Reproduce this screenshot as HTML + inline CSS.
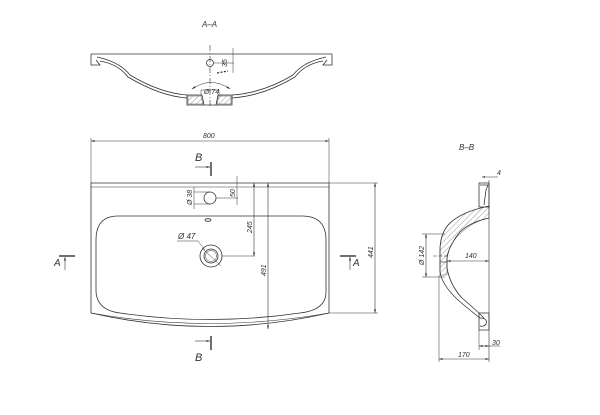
<!DOCTYPE html>
<html><head><meta charset="utf-8"><style>
html,body{margin:0;padding:0;background:#fff;}
svg{display:block;}
text{font-family:"Liberation Sans",sans-serif;font-style:italic;fill:#333;}
</style></head><body>
<svg width="600" height="415" viewBox="0 0 600 415" xmlns="http://www.w3.org/2000/svg">
<defs>
<marker id="ar" viewBox="0 0 10 10" refX="10" refY="5" markerWidth="6" markerHeight="6" orient="auto-start-reverse"><path d="M0,2 L10,5 L0,8 z" fill="#333"/></marker>
<pattern id="h" width="4" height="4" patternUnits="userSpaceOnUse" patternTransform="rotate(45)"><line x1="0" y1="0" x2="0" y2="4" stroke="#555" stroke-width="0.6"/></pattern>
</defs>
<g fill="none" stroke="#333" stroke-width="0.8">
<!-- A-A section -->
<line x1="91" y1="54" x2="332" y2="54"/>
<path d="M91,54 L91,65 L100,65 L96,60"/>
<path d="M332,54 L332,65 L323,65 L327,60"/>
<path d="M97,57 Q120,62 130,75 Q160,93 187,95"/>
<path d="M100,61 Q118,64 128,77 Q160,96 187,98"/>
<path d="M326,57 Q303,62 293,75 Q263,93 232,95"/>
<path d="M323,61 Q305,64 295,77 Q263,96 232,98"/>
<path d="M187,95 L187,105 L232,105 L232,95"/>
<path d="M187,95 L202,95 L204,105 M232,95 L218,95 L216,105"/>
<path d="M188,96 L201,96 L203,104 L188,104 z" fill="url(#h)" stroke-width="0.4"/>
<path d="M231,96 L219,96 L217,104 L231,104 z" fill="url(#h)" stroke-width="0.4"/>
<line x1="210" y1="45" x2="210" y2="108" stroke-dasharray="6,2,1,2" stroke-width="0.6"/>
<circle cx="210" cy="63" r="3.5"/>
<line x1="214" y1="63" x2="234" y2="63" stroke-width="0.5"/>
<line x1="233" y1="48" x2="233" y2="73" stroke-width="0.5"/>
<path d="M192,89 Q211,76 230,89" stroke-width="0.6" marker-start="url(#ar)" marker-end="url(#ar)"/>
<line x1="201" y1="90" x2="201" y2="96" stroke-width="0.5"/>
<line x1="219" y1="90" x2="219" y2="96" stroke-width="0.5"/>
<line x1="201" y1="90" x2="219" y2="90" stroke-width="0.5"/>
<path d="M217,73 L228,71" stroke-dasharray="2,1.5" stroke-width="1.3"/>
<!-- plan view -->
<line x1="91" y1="141" x2="329" y2="141" stroke-width="0.6" marker-start="url(#ar)" marker-end="url(#ar)"/>
<line x1="91" y1="138" x2="91" y2="183" stroke-width="0.5"/>
<line x1="329" y1="138" x2="329" y2="183" stroke-width="0.5"/>
<line x1="91" y1="183" x2="329" y2="183"/>
<line x1="91" y1="187" x2="329" y2="187" stroke-width="0.6"/>
<path d="M91,183 L91,313 Q210,340 329,313 L329,183"/>
<path d="M91,313 Q210,334 329,313" stroke-width="0.6"/>
<path d="M118,216 L302,216 Q326,216 326,240 L326,292 Q326,310 300,313 Q210,326 120,313 Q96,310 96,290 L96,240 Q96,216 118,216 z"/>
<line x1="329" y1="313" x2="378" y2="313" stroke-width="0.5"/>
<line x1="329" y1="183" x2="378" y2="183" stroke-width="0.5"/>
<line x1="375" y1="183" x2="375" y2="313" stroke-width="0.6" marker-start="url(#ar)" marker-end="url(#ar)"/>
<circle cx="211" cy="256" r="11"/>
<circle cx="211" cy="256" r="7"/>
<circle cx="211" cy="256" r="5.5" stroke-width="0.5"/>
<line x1="202" y1="248" x2="221" y2="266" stroke-width="0.5"/>
<line x1="177" y1="241" x2="198" y2="241" stroke-width="0.5"/>
<line x1="198" y1="241" x2="205" y2="250" stroke-width="0.5"/>
<circle cx="210" cy="198" r="6"/>
<ellipse cx="208" cy="220" rx="3" ry="1.3"/>
<line x1="216" y1="198" x2="238" y2="198" stroke-width="0.5"/>
<line x1="237" y1="176" x2="237" y2="205" stroke-width="0.5"/>
<line x1="194" y1="192" x2="210" y2="192" stroke-width="0.5"/>
<line x1="194" y1="204" x2="210" y2="204" stroke-width="0.5"/>
<line x1="194" y1="187" x2="194" y2="209" stroke-width="0.5"/>
<line x1="222" y1="256" x2="255" y2="256" stroke-width="0.5"/>
<line x1="254" y1="183" x2="254" y2="256" stroke-width="0.6" marker-start="url(#ar)" marker-end="url(#ar)"/>
<line x1="268" y1="183" x2="268" y2="329" stroke-width="0.6" marker-start="url(#ar)" marker-end="url(#ar)"/>
<!-- section markers -->
<line x1="211" y1="162" x2="211" y2="176" stroke-width="1.4"/>
<line x1="195" y1="167" x2="210" y2="167" stroke-width="0.6" marker-end="url(#ar)"/>
<line x1="211" y1="336" x2="211" y2="350" stroke-width="1.4"/>
<line x1="195" y1="341" x2="210" y2="341" stroke-width="0.6" marker-end="url(#ar)"/>
<line x1="59" y1="256" x2="75" y2="256" stroke-width="1.4"/>
<line x1="65" y1="270" x2="65" y2="257" stroke-width="0.6" marker-end="url(#ar)"/>
<line x1="340" y1="256" x2="356" y2="256" stroke-width="1.4"/>
<line x1="350" y1="270" x2="350" y2="257" stroke-width="0.6" marker-end="url(#ar)"/>
<!-- B-B section -->
<line x1="489" y1="180" x2="489" y2="362" stroke-width="0.6"/>
<path d="M479,183 L489,183 L489,207 L479,207 z"/>
<path d="M480,185 L488,185 L486,190 L484,205"/>
<path d="M489,206 Q460,212 448,225 Q440,235 440,250 L440,272 Q442,285 458,300 Q472,312 480,318"/>
<path d="M489,218 Q470,222 460,232 Q449,245 447,258 L447,268 Q450,285 462,298 Q476,310 484,318"/>
<path d="M489,206 Q460,212 448,225 Q440,235 440,250 L440,262 L447,262 L447,255 Q452,240 462,232 Q472,222 489,218 z" fill="url(#h)" stroke-width="0.4"/>
<path d="M440,262 L440,275 L447,275 L447,262 z" fill="url(#h)" stroke-width="0.4"/>
<path d="M479,313 L489,313 L489,330 L479,330 z"/>
<path d="M480,318 Q488,318 486,324 Q484,327 480,326"/>
<line x1="482" y1="177" x2="498" y2="177" stroke-width="0.5" marker-start="url(#ar)"/>
<line x1="426" y1="234" x2="426" y2="277" stroke-width="0.6" marker-start="url(#ar)" marker-end="url(#ar)"/>
<line x1="422" y1="234" x2="445" y2="234" stroke-width="0.5"/>
<line x1="422" y1="277" x2="445" y2="277" stroke-width="0.5"/>
<line x1="433" y1="256" x2="450" y2="256" stroke-width="0.5" stroke-dasharray="4,1.5"/>
<line x1="447" y1="261" x2="489" y2="261" stroke-width="0.6" marker-start="url(#ar)" marker-end="url(#ar)"/>
<line x1="439" y1="275" x2="439" y2="362" stroke-width="0.5"/>
<line x1="479" y1="330" x2="479" y2="350" stroke-width="0.5"/>
<line x1="479" y1="346" x2="489" y2="346" stroke-width="0.6" marker-start="url(#ar)" marker-end="url(#ar)"/>
<line x1="489" y1="346" x2="500" y2="346" stroke-width="0.5"/>
<line x1="439" y1="359" x2="489" y2="359" stroke-width="0.6" marker-start="url(#ar)" marker-end="url(#ar)"/>
</g>
<text x="202" y="27" font-size="8">A–A</text>
<text x="227" y="67" font-size="7" transform="rotate(-90 227 67)">35</text>
<text x="204" y="94" font-size="7">Ø 74</text>
<text x="203" y="138" font-size="7">800</text>
<text x="195" y="161" font-size="11">B</text>
<text x="195" y="361" font-size="11">B</text>
<text x="54" y="266" font-size="10">A</text>
<text x="353" y="266" font-size="10">A</text>
<text x="373" y="258" font-size="7" transform="rotate(-90 373 258)">441</text>
<text x="192" y="205" font-size="7" transform="rotate(-90 192 205)">Ø 38</text>
<text x="235" y="197" font-size="7" transform="rotate(-90 235 197)">50</text>
<text x="178" y="239" font-size="8">Ø 47</text>
<text x="252" y="233" font-size="7" transform="rotate(-90 252 233)">245</text>
<text x="266" y="276" font-size="7" transform="rotate(-90 266 276)">491</text>
<text x="459" y="150" font-size="8">B–B</text>
<text x="497" y="175" font-size="7">4</text>
<text x="424" y="265" font-size="7" transform="rotate(-90 424 265)">Ø 142</text>
<text x="465" y="258" font-size="7">140</text>
<text x="492" y="345" font-size="7">30</text>
<text x="458" y="357" font-size="7">170</text>
</svg>
</body></html>
